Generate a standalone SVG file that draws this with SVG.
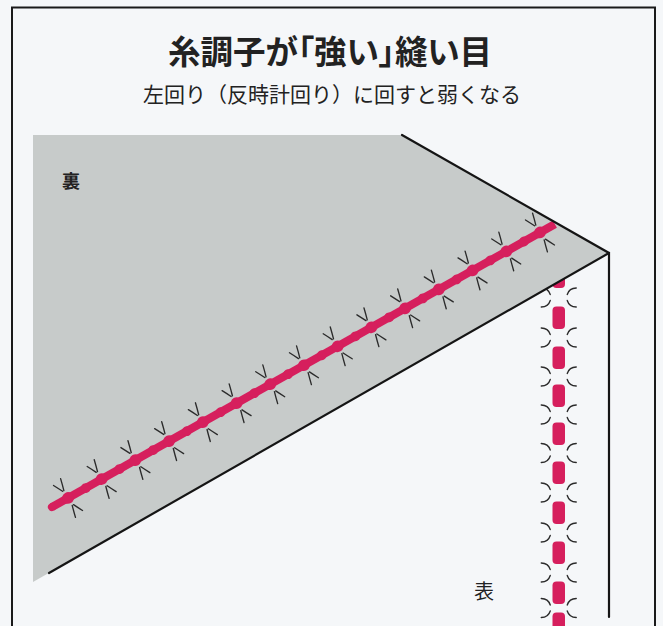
<svg xmlns="http://www.w3.org/2000/svg" xmlns:xlink="http://www.w3.org/1999/xlink" width="663" height="626" viewBox="0 0 663 626">
  <style>
    .title { font-family: "Noto Sans CJK JP", "Noto Sans", sans-serif; font-weight: 700; fill: #222; }
    .sub { font-family: "Noto Sans CJK JP", "Noto Sans", sans-serif; font-weight: 400; fill: #222; }
    .palt { font-feature-settings: "palt"; }
    .edge { stroke: #151515; stroke-width: 2.2; fill: none; stroke-linecap: round; }
    .thread { stroke: #2b2b2b; stroke-width: 1.35; fill: none; stroke-linecap: round; }
    .seam { fill: #d61f5d; }
  </style>
  <defs>
    <!-- bobbin thread loop beside a stitch on the wrong side -->
    <path id="loop" d="M-6.5,-18 Q-3.5,-12.5 -1.5,-8.5 M3,-20.5 Q1.5,-14 0,-8.5"/>
    <!-- bobbin thread showing at a needle hole on the right side -->
    <path id="hole" d="M-17.5,-9.5 Q-10.5,-9.5 -8.5,-3 M-17.5,9.5 Q-10.5,9.5 -8.5,3 M17.5,-9.5 Q10.5,-9.5 8.5,-3 M17.5,9.5 Q10.5,9.5 8.5,3"/>
    <clipPath id="frontClip">
      <polygon points="33,582 609,253 663,253 663,626 33,626"/>
    </clipPath>
  </defs>

  <rect width="663" height="626" fill="#f5f7f9"/>

  <!-- outer frame -->
  <rect id="frame" x="12" y="7.5" width="643" height="640" fill="none" stroke="#1a1a1a" stroke-width="2"/>

  <g id="heading">
    <text class="title palt" x="330" y="63.5" font-size="32.5" text-anchor="middle">糸調子が「強い」縫い目</text>
    <text class="sub" x="332" y="101.5" font-size="21" text-anchor="middle">左回り（反時計回り）に回すと弱くなる</text>
  </g>

  <!-- folded-over wrong side of the fabric -->
  <g id="back">
    <polygon points="33,135 402,135 609,253 33,582" fill="#c7cbca"/>
    <text class="title" x="62" y="187.5" font-size="18">裏</text>
  </g>

  <!-- seam along the wrong side -->
  <g id="seam-back" transform="translate(52,507) rotate(-29.36)">
    <rect class="seam" x="0" y="-4.1" width="577" height="8.2"/>
    <circle class="seam" cx="0" cy="0" r="4.1"/>
    <g class="seam">
      <ellipse cx="18.4" cy="0" rx="6" ry="5.8"/>
      <ellipse cx="57.0" cy="0" rx="6" ry="5.8"/>
      <ellipse cx="95.7" cy="0" rx="6" ry="5.8"/>
      <ellipse cx="134.4" cy="0" rx="6" ry="5.8"/>
      <ellipse cx="173.1" cy="0" rx="6" ry="5.8"/>
      <ellipse cx="211.8" cy="0" rx="6" ry="5.8"/>
      <ellipse cx="250.4" cy="0" rx="6" ry="5.8"/>
      <ellipse cx="289.1" cy="0" rx="6" ry="5.8"/>
      <ellipse cx="327.8" cy="0" rx="6" ry="5.8"/>
      <ellipse cx="366.5" cy="0" rx="6" ry="5.8"/>
      <ellipse cx="405.2" cy="0" rx="6" ry="5.8"/>
      <ellipse cx="443.8" cy="0" rx="6" ry="5.8"/>
      <ellipse cx="482.5" cy="0" rx="6" ry="5.8"/>
      <ellipse cx="521.2" cy="0" rx="6" ry="5.8"/>
      <ellipse cx="559.9" cy="0" rx="6" ry="5.8"/>
      <!-- smaller bulges between stitches -->
      <ellipse cx="38.7" cy="0" rx="4.8" ry="4.9"/>
      <ellipse cx="77.4" cy="0" rx="4.8" ry="4.9"/>
      <ellipse cx="116.1" cy="0" rx="4.8" ry="4.9"/>
      <ellipse cx="154.7" cy="0" rx="4.8" ry="4.9"/>
      <ellipse cx="193.4" cy="0" rx="4.8" ry="4.9"/>
      <ellipse cx="232.1" cy="0" rx="4.8" ry="4.9"/>
      <ellipse cx="270.8" cy="0" rx="4.8" ry="4.9"/>
      <ellipse cx="309.5" cy="0" rx="4.8" ry="4.9"/>
      <ellipse cx="348.1" cy="0" rx="4.8" ry="4.9"/>
      <ellipse cx="386.8" cy="0" rx="4.8" ry="4.9"/>
      <ellipse cx="425.5" cy="0" rx="4.8" ry="4.9"/>
      <ellipse cx="464.2" cy="0" rx="4.8" ry="4.9"/>
      <ellipse cx="502.8" cy="0" rx="4.8" ry="4.9"/>
      <ellipse cx="541.5" cy="0" rx="4.8" ry="4.9"/>
    </g>
    <g class="thread">
      <use xlink:href="#loop" x="18.4"/><use xlink:href="#loop" transform="translate(18.4,0) rotate(180)"/>
      <use xlink:href="#loop" x="57.0"/><use xlink:href="#loop" transform="translate(57.0,0) rotate(180)"/>
      <use xlink:href="#loop" x="95.7"/><use xlink:href="#loop" transform="translate(95.7,0) rotate(180)"/>
      <use xlink:href="#loop" x="134.4"/><use xlink:href="#loop" transform="translate(134.4,0) rotate(180)"/>
      <use xlink:href="#loop" x="173.1"/><use xlink:href="#loop" transform="translate(173.1,0) rotate(180)"/>
      <use xlink:href="#loop" x="211.8"/><use xlink:href="#loop" transform="translate(211.8,0) rotate(180)"/>
      <use xlink:href="#loop" x="250.4"/><use xlink:href="#loop" transform="translate(250.4,0) rotate(180)"/>
      <use xlink:href="#loop" x="289.1"/><use xlink:href="#loop" transform="translate(289.1,0) rotate(180)"/>
      <use xlink:href="#loop" x="327.8"/><use xlink:href="#loop" transform="translate(327.8,0) rotate(180)"/>
      <use xlink:href="#loop" x="366.5"/><use xlink:href="#loop" transform="translate(366.5,0) rotate(180)"/>
      <use xlink:href="#loop" x="405.2"/><use xlink:href="#loop" transform="translate(405.2,0) rotate(180)"/>
      <use xlink:href="#loop" x="443.8"/><use xlink:href="#loop" transform="translate(443.8,0) rotate(180)"/>
      <use xlink:href="#loop" x="482.5"/><use xlink:href="#loop" transform="translate(482.5,0) rotate(180)"/>
      <use xlink:href="#loop" x="521.2"/><use xlink:href="#loop" transform="translate(521.2,0) rotate(180)"/>
      <use xlink:href="#loop" x="559.9"/><use xlink:href="#loop" transform="translate(559.9,0) rotate(180)"/>
    </g>
  </g>

  <!-- seam on the right side of the fabric -->
  <g id="seam-front" clip-path="url(#frontClip)">
    <g class="seam">
      <rect x="552.5" y="266" width="12.5" height="22" rx="4"/>
      <rect x="552.5" y="306.5" width="12.5" height="22.5" rx="4"/>
      <rect x="552.5" y="346.5" width="12.5" height="22.5" rx="4"/>
      <rect x="552.5" y="384.5" width="12.5" height="22.5" rx="4"/>
      <rect x="552.5" y="422.5" width="12.5" height="22.5" rx="4"/>
      <rect x="552.5" y="461.5" width="12.5" height="22.5" rx="4"/>
      <rect x="552.5" y="501.5" width="12.5" height="22.5" rx="4"/>
      <rect x="552.5" y="541.5" width="12.5" height="22.5" rx="4"/>
      <rect x="552.5" y="581.5" width="12.5" height="22.5" rx="4"/>
      <rect x="552.5" y="612.5" width="12.5" height="22.5" rx="4"/>
    </g>
    <g class="thread">
      <use xlink:href="#hole" x="558.75" y="297.5"/>
      <use xlink:href="#hole" x="558.75" y="337.5"/>
      <use xlink:href="#hole" x="558.75" y="376.5"/>
      <use xlink:href="#hole" x="558.75" y="414.5"/>
      <use xlink:href="#hole" x="558.75" y="453"/>
      <use xlink:href="#hole" x="558.75" y="492.5"/>
      <use xlink:href="#hole" x="558.75" y="532.5"/>
      <use xlink:href="#hole" x="558.75" y="572.5"/>
      <use xlink:href="#hole" x="558.75" y="608"/>
    </g>
  </g>

  <!-- fold edges -->
  <g id="fold-edges" class="edge">
    <polyline points="402,135 609,253 609,617"/>
    <line x1="609" y1="253" x2="49" y2="573"/>
  </g>

  <g id="front-label">
    <text class="sub" x="474" y="599" font-size="20">表</text>
  </g>
</svg>
